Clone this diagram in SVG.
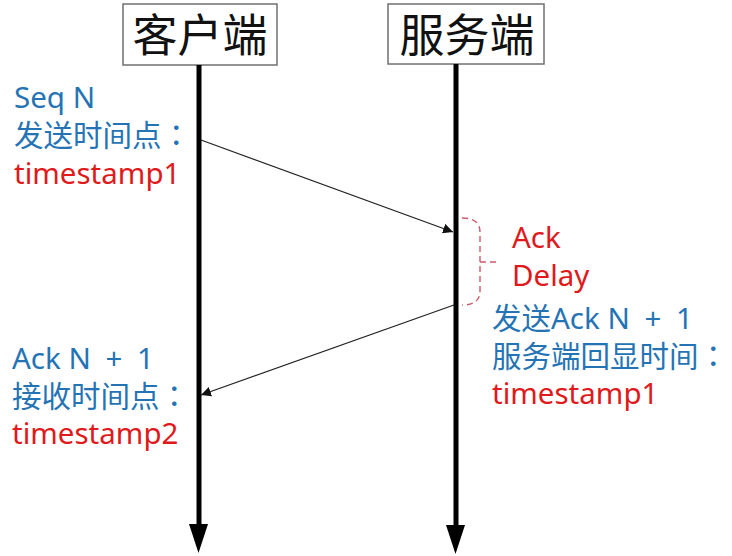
<svg xmlns="http://www.w3.org/2000/svg" width="732" height="556" viewBox="0 0 732 556">
<style>
.box{fill:#fff;stroke:#707070;stroke-width:1.5}
.title{font-family:"Noto Sans CJK SC","Noto Sans",sans-serif;font-size:45px;fill:#111;text-anchor:middle}
.t{font-family:"Noto Sans","Noto Sans CJK SC",sans-serif;font-size:29.5px}
.c{font-family:"Noto Sans CJK TC",sans-serif}
.blue{fill:#2474b5}
.red{fill:#e0191b}
.life{stroke:#000;stroke-width:5}
.msg{stroke:#222;stroke-width:1.3;fill:none}
.bracket{stroke:#cc5a6c;stroke-width:1.4;fill:none;stroke-dasharray:6 4}
</style>
<defs>
<marker id="ah" viewBox="0 0 10 10" refX="10" refY="5" markerWidth="10" markerHeight="10" markerUnits="userSpaceOnUse" orient="auto">
<path d="M0,0 L10,5 L0,10 Z" fill="#111"/>
</marker>
</defs>
<rect width="732" height="556" fill="#fff"/>
<g id="client">
<rect class="box" x="123" y="4" width="154" height="61"/>
<text class="title" x="200" y="52">客户端</text>
<line class="life" x1="199" y1="65" x2="199" y2="527"/>
<polygon points="189,524 208,524 198.5,553" fill="#000"/>
</g>
<g id="server">
<rect class="box" x="388" y="4" width="156" height="60"/>
<text class="title" x="467" y="52">服务端</text>
<line class="life" x1="456" y1="64" x2="456" y2="528"/>
<polygon points="446,525 465,525 455.5,554" fill="#000"/>
</g>
<g id="connectors">
<line class="msg" x1="201" y1="140" x2="453" y2="232" marker-end="url(#ah)"/>
<line class="msg" x1="454" y1="305" x2="201" y2="395" marker-end="url(#ah)"/>
<path class="bracket" d="M462,218 Q480,218 480,232 L480,291 Q480,305 462,305"/>
<line class="bracket" x1="480" y1="262" x2="500" y2="262"/>
</g>
<g id="client-send">
<text class="t blue" x="14" y="108">Seq N</text>
<text class="t blue" x="14" y="146">发送时间点<tspan class="c">：</tspan></text>
<text class="t red" x="14" y="184">timestamp1</text>
</g>
<g id="ack-delay">
<text class="t red" x="512" y="248">Ack</text>
<text class="t red" x="512" y="286">Delay</text>
</g>
<g id="server-send">
<text class="t blue" x="492" y="329">发送Ack N <tspan dx="7">+</tspan> <tspan dx="7">1</tspan></text>
<text class="t blue" x="492" y="367">服务端回显时间<tspan class="c">：</tspan></text>
<text class="t red" x="492" y="404">timestamp1</text>
</g>
<g id="client-recv">
<text class="t blue" x="12" y="369">Ack N <tspan dx="7">+</tspan> <tspan dx="7">1</tspan></text>
<text class="t blue" x="12" y="407">接收时间点<tspan class="c">：</tspan></text>
<text class="t red" x="12" y="444">timestamp2</text>
</g>
</svg>
